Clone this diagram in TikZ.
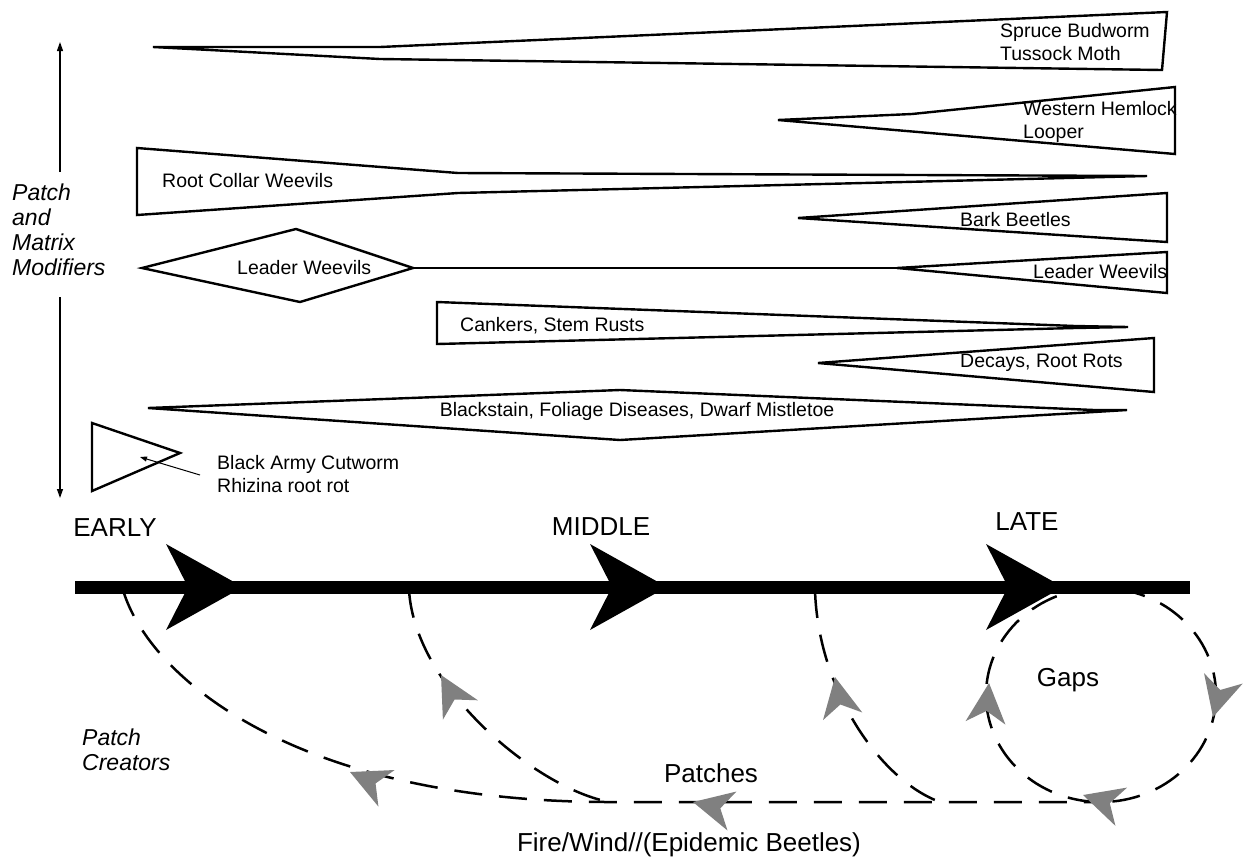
\documentclass[tikz,border=0pt]{standalone}
\usepackage{fontspec}
\setmainfont{Liberation Sans}
\usetikzlibrary{arrows.meta}
\newcommand\greyhead[3]{\fill[gray,shift={(#1,#2)},rotate=#3] (0,0) -- (-40,20) -- (-28,0) -- (-40,-20) -- cycle;}
\newcommand\blackhead[1]{\fill[black,shift={(#1,587)}] (0,0) -- (-77,-43) -- (-55,0) -- (-77,43) -- cycle;}
\begin{document}
\begin{tikzpicture}[x=1pt,y=-1pt,
  wedge/.style={draw=black, line width=2.4pt, fill=white, line join=miter},
  lbl/.style={font=\fontsize{19.5}{22.5}\selectfont, inner sep=0pt, anchor=west, align=left},
  big/.style={font=\fontsize{26}{30}\selectfont, inner sep=0pt},
  side/.style={font=\fontsize{23}{25}\selectfont\itshape, inner sep=0pt, anchor=west, align=left},
  dashline/.style={line width=2.5pt, dash pattern=on 28pt off 17pt},
  thin/.style={line width=1.2pt, -{Triangle[length=9pt,width=6pt]}}]
\useasboundingbox (0,0) rectangle (1244,863);
\fill[white] (0,0) rectangle (1244,863);

% vertical axis arrows
\coordinate (upB) at (60,172);
\coordinate (upT) at (60,42);
\coordinate (dnT) at (60,297);
\coordinate (dnB) at (60,498);
\draw[thin] (upB) -- (upT);
\draw[thin] (dnT) -- (dnB);
\node[side] (pmm) at (12,230) {Patch\\and\\Matrix\\Modifiers};

% wedges
\draw[wedge] (153,47) -- (380,47) -- (1167,12) -- (1162,70) -- (380,59) -- cycle;
\node[lbl] (sb) at (1000,42) {Spruce Budworm\\Tussock Moth};

\draw[wedge] (778,120) -- (912,114) -- (1175,87) -- (1175,154) -- cycle;
\node[lbl] (whl) at (1023,122) {Western Hemlock\\Looper};

\draw[wedge] (137,148) -- (458,173) -- (1147,176) -- (458,193) -- (137,215) -- cycle;
\node[lbl] (rcw) at (162,181) {Root Collar Weevils};

\draw[wedge] (798,218) -- (1167,193) -- (1167,242) -- cycle;
\node[lbl] (bb) at (960,220) {Bark Beetles};

\draw[wedge] (142,268) -- (296,229) -- (413,268) -- (300,302) -- cycle;
\node[lbl] (lw1) at (237,268) {Leader Weevils};
\coordinate (lwa) at (413,268);
\coordinate (lwb) at (897,268);
\draw[line width=2.4pt] (lwa) -- (lwb);
\draw[wedge] (897,268) -- (1167,252) -- (1167,293) -- cycle;
\node[lbl] (lw2) at (1033,272) {Leader Weevils};

\draw[wedge] (437,302) -- (1075,326) -- (1128,327) -- (1075,328) -- (437,344) -- cycle;
\node[lbl] (csr) at (460,326) {Cankers, Stem Rusts};

\draw[wedge] (818,363) -- (1154,338) -- (1154,392) -- cycle;
\node[lbl] (drr) at (960,363) {Decays, Root Rots};

\draw[wedge] (148,408) -- (620,390) -- (1094,410) -- (1127,410) -- (1094,412) -- (620,440) -- cycle;
\node[lbl,anchor=center] (bfd) at (637,411) {Blackstain, Foliage Diseases, Dwarf Mistletoe};

\draw[wedge] (92,423) -- (180,453) -- (92,491) -- cycle;
\node[lbl] (bac) at (217,474) {Black Army Cutworm\\Rhizina root rot};
\coordinate (bacA) at (200,475);
\coordinate (bacB) at (140,457);
\draw[line width=1pt, -{Triangle[length=7pt,width=5pt]}] (bacA) -- (bacB);

% dashed loops
\draw[dashline] (123,590) .. controls (150,680) and (300,802) .. (610,802) -- (1100,802);
\draw[dashline] (409,590) .. controls (415,690) and (540,790) .. (610,802);
\draw[dashline] (815,590) .. controls (818,690) and (880,780) .. (940,802);
\draw[dashline] (1101,695) ellipse [x radius=115, y radius=107];

% timeline
\coordinate (tlA) at (75,587);
\coordinate (tlB) at (1190,587);
\draw[line width=13pt] (tlA) -- (tlB);
\blackhead{243}
\blackhead{667}
\blackhead{1063}
\node[big] (early) at (115,528) {EARLY};
\node[big] (middle) at (601,527) {MIDDLE};
\node[big] (late) at (1027,522) {LATE};

% grey arrowheads
\greyhead{350}{772}{156}
\greyhead{441}{675}{119}
\greyhead{835}{677}{101}
\greyhead{989}{683}{85}
\greyhead{1213}{717}{-105}
\greyhead{1083}{795}{163}
\greyhead{693}{802}{167}

\node[big] (gaps) at (1068,680) {Gaps};
\node[big] (patches) at (711,773) {Patches};
\node[big] (fire) at (689,845) {Fire/Wind//(Epidemic Beetles)};
\node[side] (pc) at (82,750) {Patch\\Creators};
\end{tikzpicture}
\end{document}
